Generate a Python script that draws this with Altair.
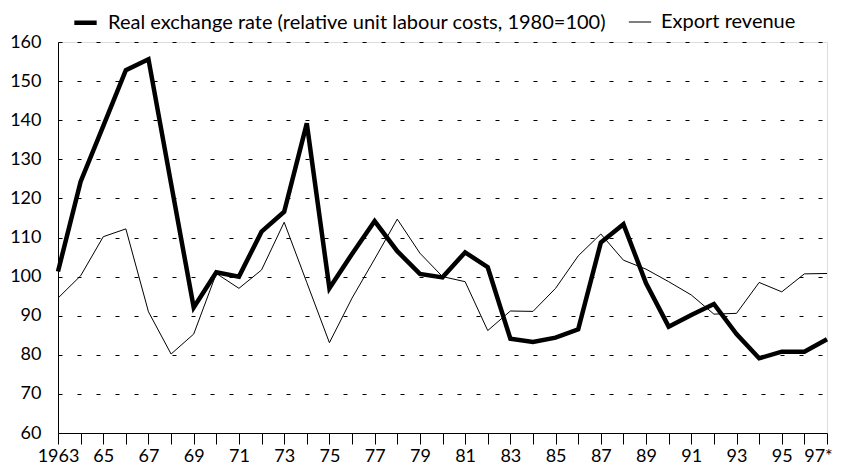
import altair as alt
import pandas as pd

years = list(range(1963, 1998))
real_exchange_rate = [101.3, 124.3, 138.5, 152.8, 155.6, 123.8, 92.1, 101.1, 100.0, 111.5,
                      116.6, 139.2, 97.0, 105.8, 114.2, 106.5, 100.7, 99.8, 106.2, 102.4,
                      84.1, 83.3, 84.4, 86.5, 108.7, 113.4, 98.3, 87.2, 90.2, 93.0,
                      85.3, 79.1, 80.8, 80.8, 84.0]
export_revenue = [94.5, 100.2, 110.2, 112.2, 91.0, 80.2, 85.3, 100.8, 97.0, 101.7,
                  113.9, 98.5, 83.1, 94.5, 104.5, 114.7, 106.0, 100.0, 98.7, 86.2,
                  91.2, 91.1, 97.0, 105.3, 110.9, 104.2, 101.9, 98.7, 95.3, 90.4,
                  90.6, 98.5, 96.1, 100.7, 100.8]
series_names = ["Real exchange rate (relative unit labour costs, 1980=100)", "Export revenue"]
x_tick_labels = ["1963", "", "65", "", "67", "", "69", "", "71", "", "73", "", "75", "",
                 "77", "", "79", "", "81", "", "83", "", "85", "", "87", "", "89", "",
                 "91", "", "93", "", "95", "", "97*"]
y_ticks = [60, 70, 80, 90, 100, 110, 120, 130, 140, 150, 160]

rows = []
for y, a, b in zip(years, real_exchange_rate, export_revenue):
    rows.append({"year": y, "value": a, "series": series_names[0]})
    rows.append({"year": y, "value": b, "series": series_names[1]})
df = pd.DataFrame(rows)

label_expr = "[" + ",".join('"%s"' % t for t in x_tick_labels) + "][datum.value - 1963]"

FONT = "Lato"

legend = alt.Legend(title=None, orient="none", legendX=14, legendY=-33,
                    direction="horizontal", symbolType="stroke",
                    symbolSize=500, labelFontSize=20, labelFont=FONT,
                    labelColor="black", columnPadding=20,
                    labelOffset=9, labelLimit=0)

chart = alt.Chart(df).mark_line(strokeJoin="miter", strokeCap="butt").encode(
    x=alt.X("year:Q",
            scale=alt.Scale(domain=[1963, 1997], nice=False, zero=False),
            axis=alt.Axis(values=years, labelExpr=label_expr, title=None, grid=False,
                          tickSize=11, tickColor="black", domainColor="black",
                          labelPadding=3, labelFontSize=18, labelColor="black",
                          labelFont=FONT, labelOverlap=False, labelFlush=False,
                          labelOffset={"condition": {"test": "datum.value == 1997", "value": -9},
                                       "value": 0})),
    y=alt.Y("value:Q",
            scale=alt.Scale(domain=[60, 160], nice=False, zero=False),
            axis=alt.Axis(values=y_ticks, title=None, grid=True, gridColor="black",
                          gridDash=[4, 15], gridWidth=1, ticks=False,
                          domainColor="black", labelPadding=17, labelFontSize=18,
                          labelColor="black", labelFont=FONT)),
    color=alt.Color("series:N",
                    scale=alt.Scale(domain=series_names, range=["black", "black"]),
                    legend=legend),
    strokeWidth=alt.StrokeWidth("series:N",
                                scale=alt.Scale(domain=series_names, range=[4.5, 1]),
                                legend=legend),
).properties(
    width=769, height=391,
    autosize=alt.AutoSizeParams(type="none"),
    padding={"left": 50, "top": 34, "right": 8, "bottom": 32},
).configure_view(
    stroke="black", strokeWidth=1
).configure(background="white")

chart.save("out.html", embed_options={"renderer": "svg", "actions": False})
